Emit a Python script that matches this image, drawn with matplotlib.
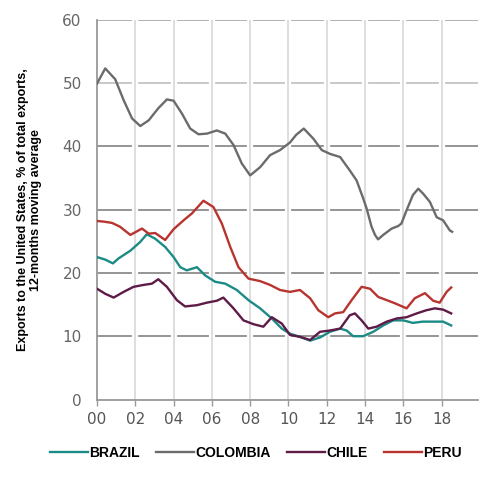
import numpy as np
import matplotlib.pyplot as plt

# Años (desde 2000) y valores, % de exportaciones a EE.UU.
colombia_x = [0, .43, .95, 1.39, 1.83, 2.26, 2.7, 3.2, 3.65, 4.0, 4.43, 4.87, 5.3, 5.74,
              6.26, 6.7, 7.13, 7.56, 8.0, 8.52, 9.04, 9.56, 10.08, 10.4, 10.8, 11.3, 11.74,
              12.17, 12.7, 13.2, 13.56, 13.9, 14.08, 14.34, 14.52, 14.68, 14.95, 15.39,
              15.73, 15.9, 16.17, 16.5, 16.78, 17.04, 17.39, 17.74, 18.08, 18.43, 18.55]
colombia_y = [49.9, 52.3, 50.6, 47.3, 44.4, 43.2, 44.1, 46.0, 47.4, 47.2, 45.2, 42.8, 41.9,
              42.0, 42.5, 42.0, 40.2, 37.3, 35.4, 36.7, 38.6, 39.4, 40.6, 41.8, 42.8, 41.2,
              39.4, 38.8, 38.3, 36.2, 34.6, 31.8, 30.2, 27.3, 26.0, 25.3, 26.0, 27.0, 27.4,
              27.8, 29.9, 32.3, 33.3, 32.5, 31.2, 28.8, 28.3, 26.7, 26.5]

peru_x = [0, .35, .78, 1.2, 1.74, 2.35, 2.7, 3.04, 3.56, 4.0, 4.52, 4.96, 5.56, 6.08, 6.52,
          6.96, 7.39, 7.91, 8.52, 9.04, 9.56, 10.08, 10.6, 11.13, 11.56, 12.08, 12.43, 12.86,
          13.3, 13.82, 14.26, 14.69, 15.13, 15.56, 16.17, 16.6, 17.13, 17.56, 17.9, 18.26, 18.5]
peru_y = [28.2, 28.1, 27.9, 27.3, 26.0, 27.0, 26.2, 26.3, 25.2, 26.9, 28.3, 29.4, 31.4, 30.4,
          27.8, 24.1, 20.9, 19.1, 18.7, 18.1, 17.3, 17.0, 17.3, 16.0, 14.1, 13.0, 13.6, 13.8,
          15.7, 17.8, 17.5, 16.2, 15.7, 15.2, 14.4, 16.0, 16.8, 15.6, 15.3, 17.0, 17.7]

brazil_x = [0, .43, .83, 1.13, 1.74, 2.26, 2.6, 3.04, 3.56, 4.0, 4.35, 4.69, 5.22, 5.65, 6.17,
            6.7, 7.3, 7.91, 8.52, 9.13, 9.65, 10.08, 10.6, 11.13, 11.65, 12.17, 12.7, 13.04,
            13.38, 13.9, 14.43, 14.95, 15.47, 16.0, 16.5, 17.0, 17.56, 18.08, 18.5]
brazil_y = [22.5, 22.1, 21.5, 22.3, 23.5, 24.9, 26.1, 25.4, 24.1, 22.5, 20.9, 20.4, 20.9, 19.6,
            18.6, 18.3, 17.3, 15.7, 14.4, 12.8, 11.2, 10.4, 9.9, 9.3, 9.8, 10.7, 11.2, 10.9,
            10.0, 10.0, 10.7, 11.7, 12.5, 12.5, 12.1, 12.3, 12.3, 12.3, 11.7]

chile_x = [0, .43, .87, 1.39, 1.91, 2.43, 2.87, 3.2, 3.65, 4.17, 4.6, 5.22, 5.74, 6.26, 6.6,
           7.13, 7.65, 8.17, 8.69, 9.13, 9.65, 10.08, 10.6, 11.13, 11.65, 12.17, 12.7, 13.2,
           13.47, 13.82, 14.17, 14.6, 15.13, 15.65, 16.17, 16.7, 17.2, 17.65, 18.08, 18.5]
chile_y = [17.5, 16.7, 16.1, 17.0, 17.8, 18.1, 18.3, 19.0, 17.8, 15.7, 14.7, 14.9, 15.3, 15.6,
           16.1, 14.4, 12.5, 11.9, 11.5, 13.0, 12.0, 10.2, 9.9, 9.4, 10.7, 10.9, 11.2, 13.3,
           13.6, 12.5, 11.2, 11.5, 12.3, 12.8, 13.0, 13.6, 14.1, 14.4, 14.2, 13.6]

paises = ['BRAZIL', 'COLOMBIA', 'CHILE', 'PERU']
colores = ['#1b8b86', '#6b6b6b', '#5e1b48', '#b8342f']
series = [(brazil_x, brazil_y), (colombia_x, colombia_y), (chile_x, chile_y), (peru_x, peru_y)]

anios_ticks = list(range(2000, 2019, 2))
etiquetas_x = ['%02d' % (a - 2000) for a in anios_ticks]
valores_y = [0, 10, 20, 30, 40, 50, 60]

fig = plt.figure(figsize=(5, 4.92), dpi=100)
ax = fig.add_axes([0.194, 0.188, 0.762, 0.772])

# Rejilla horizontal
for v in valores_y[1:-1]:
    ax.axhline(v, color='#c4c4c4' if v == 50 else '#8c8c8c', lw=1.3, zorder=1)
ax.axhline(60, color='#aaaaaa', lw=1.3, zorder=1)

# Rejilla vertical (corta las líneas horizontales)
for a in anios_ticks[1:]:
    ax.axvline(a, color='white', lw=4.5, zorder=1.5)
    ax.axvline(a, color='#d8d8d8', lw=1.2, zorder=1.6)

for nombre, color, (xs, ys) in zip(paises, colores, series):
    ax.plot(np.array(xs) + 2000, ys, color=color, lw=1.7, label=nombre, zorder=3)

ax.set_xlim(2000, 2019.9)
ax.set_ylim(0, 60)
ax.set_xticks(anios_ticks)
ax.set_xticklabels(etiquetas_x)
ax.set_yticks(valores_y)

for s in ['top', 'right']:
    ax.spines[s].set_visible(False)
for s in ['left', 'bottom']:
    ax.spines[s].set_color('#999999')
    ax.spines[s].set_linewidth(1.3)

ax.tick_params(axis='x', length=4, width=1, color='#999999', labelsize=11,
               labelcolor='#555555', pad=5)
ax.tick_params(axis='y', length=0, labelsize=11, labelcolor='#666666', pad=11)

ax.set_ylabel('Exports to the United States, % of total exports,\n12-months moving average',
              fontsize=9, fontweight='bold', family=['Liberation Sans', 'DejaVu Sans'],
              labelpad=15, linespacing=1.1)

fig.legend(loc='center', bbox_to_anchor=(0.512, 0.079), ncol=4, frameon=False,
           handlelength=2.7, handletextpad=0.1, columnspacing=1.2,
           prop={'weight': 'bold', 'size': 10, 'family': 'Liberation Sans'})

fig.savefig('out.png', dpi=100)
